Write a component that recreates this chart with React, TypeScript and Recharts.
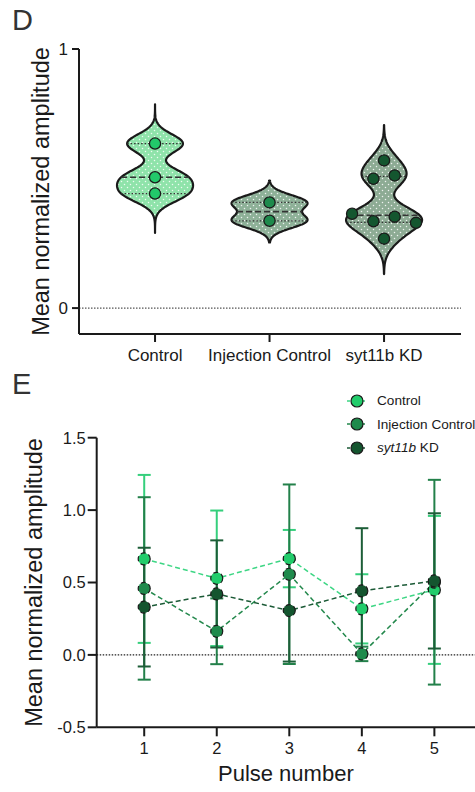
import React from "react";
import {
  ScatterChart,
  Scatter,
  ComposedChart,
  Line,
  ErrorBar,
  XAxis,
  YAxis,
  ReferenceLine,
  Legend,
} from "recharts";

const FONT = '"Liberation Sans", Arial, Helvetica, sans-serif';
const INK = "#1a1a1a";

// ---- panel D: per-fish mean amplitudes ----
const GROUPS = ["Control", "Injection Control", "syt11b KD"];
const CONTROL_AMP = [0.635, 0.505, 0.442];
const INJECTION_AMP = [0.408, 0.337];
const KD_AMP = [0.57, 0.499, 0.512, 0.364, 0.335, 0.353, 0.329, 0.268];
const KDE_BANDWIDTH = [0.036, 0.028, 0.043];

const VIOLIN_FILL = ["#8fe3aa", "#8eb198", "#8dab94"];
const POINT_FILL = ["#22c96a", "#1e8a4c", "#14562f"];

// ---- panel E: amplitude per pulse (mean ± SD) ----
const PULSES = [1, 2, 3, 4, 5];
const CONTROL_MEAN = [0.663, 0.529, 0.665, 0.318, 0.449];
const CONTROL_SD = [0.58, 0.468, 0.198, 0.239, 0.511];
const INJECTION_MEAN = [0.459, 0.163, 0.557, 0.007, 0.502];
const INJECTION_SD = [0.63, 0.227, 0.62, 0.05, 0.707];
const KD_MEAN = [0.33, 0.421, 0.306, 0.442, 0.511];
const KD_SD = [0.41, 0.37, 0.352, 0.433, 0.467];

const SERIES = [
  { key: "control", name: "Control", line: "#3dd684", dot: "#22cc6b", bar: "#35cf7c" },
  { key: "injection", name: "Injection Control", line: "#23884c", dot: "#1f8a4c", bar: "#23804a" },
  { key: "kd", name: "syt11b KD", line: "#1b5a36", dot: "#14552f", bar: "#1d5e38" },
];

const HALF_WIDTH = 0.332; // widest point of each violin, in category units
const DODGE_STEP = 0.186;

function sampleSd(vals: number[]) {
  const m = vals.reduce((a, b) => a + b, 0) / vals.length;
  return Math.sqrt(vals.reduce((a, v) => a + (v - m) ** 2, 0) / (vals.length - 1));
}

function quantile(vals: number[], p: number) {
  const s = [...vals].sort((a, b) => a - b);
  const n = s.length;
  let pos = (n + 1) * p;
  if (pos < 1) pos = 1;
  if (pos > n) pos = n;
  const lo = Math.floor(pos);
  if (lo >= n) return s[n - 1];
  return s[lo - 1] + (pos - lo) * (s[lo] - s[lo - 1]);
}

// spread points that sit at almost the same height side by side
function dodge(vals: number[], gap = 0.045) {
  const order = vals.map((_, i) => i).sort((a, b) => vals[a] - vals[b]);
  const rows: number[][] = [];
  for (const i of order) {
    const row = rows[rows.length - 1];
    if (row && vals[i] - vals[row[row.length - 1]] < gap) row.push(i);
    else rows.push([i]);
  }
  const off = new Array(vals.length).fill(0);
  rows.forEach((row) => {
    row.sort((a, b) => a - b);
    row.forEach((i, k) => (off[i] = (k - (row.length - 1) / 2) * DODGE_STEP));
  });
  return off;
}

function buildViolin(vals: number[], h: number, center: number) {
  const n = vals.length;
  const reach = 1.92 * sampleSd(vals) * Math.pow(n, -0.2);
  const lo = Math.min(...vals) - reach;
  const hi = Math.max(...vals) + reach;
  const dens = (y: number) =>
    vals.reduce((s, v) => s + Math.exp(-0.5 * ((y - v) / h) ** 2), 0);
  const steps = 140;
  const ys: number[] = [];
  for (let i = 0; i <= steps; i++) ys.push(lo + ((hi - lo) * i) / steps);
  const peak = Math.max(...ys.map(dens));
  const half = (y: number) => (HALF_WIDTH * dens(y)) / peak;

  const outline = [
    ...ys.map((y) => ({ x: center + half(y), y })),
    ...[...ys].reverse().map((y) => ({ x: center - half(y), y })),
  ];
  const seg = (q: number) => [
    { x: center - half(q), y: q },
    { x: center + half(q), y: q },
  ];
  const offsets = dodge(vals);
  return {
    outline,
    median: seg(quantile(vals, 0.5)),
    quartiles: [seg(quantile(vals, 0.25)), seg(quantile(vals, 0.75))],
    points: vals.map((v, i) => ({ x: center + offsets[i], y: v })),
  };
}

const VIOLINS = [CONTROL_AMP, INJECTION_AMP, KD_AMP].map((vals, i) =>
  buildViolin(vals, KDE_BANDWIDTH[i], i)
);

const noShape = () => <g />;

const violinPath = (fill: string, id: string) => (p: any) => {
  const pts: { x: number; y: number }[] = p.points || [];
  const d = pts.map((pt, i) => `${i ? "L" : "M"}${pt.x},${pt.y}`).join("") + "Z";
  return (
    <g>
      <defs>
        <pattern id={id} width="6" height="6" patternUnits="userSpaceOnUse">
          <circle cx="1.5" cy="1.5" r="0.75" fill="#ffffff" opacity="0.85" />
          <circle cx="4.5" cy="4.5" r="0.75" fill="#ffffff" opacity="0.85" />
        </pattern>
      </defs>
      <path d={d} fill={fill} />
      <path d={d} fill={`url(#${id})`} />
      <path d={d} fill="none" stroke={INK} strokeWidth={2.2} strokeLinejoin="round" />
    </g>
  );
};

const axisStroke = { stroke: INK, strokeWidth: 2 };

function YTitle(props: any) {
  const vb = props.viewBox || { x: 0, y: 0, width: 0, height: 0 };
  const cx = vb.x + vb.width / 2 + (props.shift || 0);
  const cy = vb.y + vb.height / 2;
  return (
    <text
      x={cx}
      y={cy}
      transform={`rotate(-90, ${cx}, ${cy})`}
      textAnchor="middle"
      dominantBaseline="central"
      fontSize={23.5}
      fontFamily={FONT}
      fill={INK}
    >
      Mean normalized amplitude
    </text>
  );
}

function ViolinPanel() {
  return (
    <ScatterChart width={475} height={380} margin={{ top: 49, right: 14, bottom: 16, left: 0 }}>
      <XAxis
        type="number"
        dataKey="x"
        domain={[-0.664, 2.672]}
        ticks={[0, 1, 2]}
        interval={0}
        tickFormatter={(v: number) => GROUPS[v] ?? ""}
        height={30}
        tickSize={8}
        tickMargin={7}
        axisLine={axisStroke}
        tickLine={axisStroke}
        tick={{ fontSize: 17, fill: INK, fontFamily: FONT }}
        allowDataOverflow
      />
      <YAxis
        type="number"
        dataKey="y"
        domain={[-0.1, 1]}
        ticks={[0, 1]}
        width={79}
        tickSize={7}
        tickMargin={4}
        axisLine={axisStroke}
        tickLine={axisStroke}
        tick={{ fontSize: 17, fill: INK, fontFamily: FONT }}
        allowDataOverflow
        label={(p: any) => <YTitle {...p} shift={1} />}
      />
      <ReferenceLine y={0} stroke="#555" strokeWidth={1.2} strokeDasharray="1.5 1.5" />
      {VIOLINS.map((v, i) => (
        <Scatter
          key={`violin-${i}`}
          data={v.outline}
          shape={noShape}
          line={violinPath(VIOLIN_FILL[i], `dots-${i}`)}
          isAnimationActive={false}
        />
      ))}
      {VIOLINS.map((v, i) => (
        <Scatter
          key={`median-${i}`}
          data={v.median}
          shape={noShape}
          line={{ stroke: "#333", strokeWidth: 1.6, strokeDasharray: "6 3" }}
          isAnimationActive={false}
        />
      ))}
      {VIOLINS.flatMap((v, i) =>
        v.quartiles.map((q, j) => (
          <Scatter
            key={`q-${i}-${j}`}
            data={q}
            shape={noShape}
            line={{ stroke: "#333", strokeWidth: 1.2, strokeDasharray: "1.5 2" }}
            isAnimationActive={false}
          />
        ))
      )}
      {VIOLINS.map((v, i) => (
        <Scatter
          key={`pts-${i}`}
          data={v.points}
          isAnimationActive={false}
          shape={(p: any) => (
            <circle cx={p.cx} cy={p.cy} r={5.6} fill={POINT_FILL[i]} stroke={INK} strokeWidth={1.3} />
          )}
        />
      ))}
    </ScatterChart>
  );
}

const pulseData = PULSES.map((p, i) => ({
  pulse: p,
  control: CONTROL_MEAN[i],
  controlErr: CONTROL_SD[i],
  injection: INJECTION_MEAN[i],
  injectionErr: INJECTION_SD[i],
  kd: KD_MEAN[i],
  kdErr: KD_SD[i],
}));

function PulseLegend() {
  return (
    <div style={{ fontFamily: FONT, fontSize: 13.6, color: INK, whiteSpace: "nowrap" }}>
      {SERIES.map((s) => (
        <div key={s.key} style={{ display: "flex", alignItems: "center", height: 23.5 }}>
          <svg width={20} height={14} style={{ display: "block", flexShrink: 0 }}>
            <line x1={0} x2={20} y1={7} y2={7} stroke={s.line} strokeWidth={1.5} strokeDasharray="3 2" />
            <circle cx={10} cy={7} r={6} fill={s.dot} stroke={INK} strokeWidth={1.2} />
          </svg>
          <span style={{ marginLeft: 10, flexShrink: 0 }}>
            {s.key === "kd" ? (
              <>
                <i>syt11b</i> KD
              </>
            ) : (
              s.name
            )}
          </span>
        </div>
      ))}
    </div>
  );
}

function PulsePanel() {
  return (
    <ComposedChart
      width={475}
      height={412}
      data={pulseData}
      margin={{ top: 57.7, right: 0, bottom: 0, left: 0 }}
    >
      <XAxis
        type="number"
        dataKey="pulse"
        domain={[0.345, 5.56]}
        ticks={PULSES}
        interval={0}
        height={64.7}
        tickSize={9}
        tickMargin={6}
        axisLine={axisStroke}
        tickLine={axisStroke}
        tick={{ fontSize: 16.5, fill: INK, fontFamily: FONT }}
        allowDataOverflow
        label={{
          value: "Pulse number",
          position: "bottom",
          offset: -27,
          style: { fontSize: 22, fill: INK, fontFamily: FONT },
        }}
      />
      <YAxis
        type="number"
        domain={[-0.5, 1.5]}
        ticks={[-0.5, 0, 0.5, 1, 1.5]}
        tickFormatter={(v: number) => v.toFixed(1)}
        width={96.7}
        tickSize={9}
        tickMargin={2}
        axisLine={axisStroke}
        tickLine={axisStroke}
        tick={{ fontSize: 16.5, fill: INK, fontFamily: FONT }}
        allowDataOverflow
        label={(p: any) => <YTitle {...p} shift={-14} />}
      />
      <ReferenceLine y={0} stroke="#222" strokeWidth={1.2} strokeDasharray="1.5 1.5" />
      <Legend
        layout="vertical"
        align="center"
        verticalAlign="middle"
        wrapperStyle={{ top: 9, left: 347, width: 128 }}
        content={() => <PulseLegend />}
      />
      {SERIES.map((s) => (
        <Line
          key={s.key}
          type="linear"
          dataKey={s.key}
          name={s.name}
          stroke={s.line}
          strokeWidth={1.5}
          strokeDasharray="5 3"
          dot={{ r: 6, fill: s.dot, stroke: INK, strokeWidth: 1.2 }}
          activeDot={false}
          isAnimationActive={false}
        >
          <ErrorBar dataKey={`${s.key}Err`} direction="y" width={6.5} stroke={s.bar} strokeWidth={2} />
        </Line>
      ))}
    </ComposedChart>
  );
}

export default function App() {
  return (
    <div
      style={{
        position: "absolute",
        left: 0,
        top: 0,
        width: 475,
        height: 792,
        overflow: "hidden",
        background: "#fff",
        fontFamily: FONT,
      }}
    >
      <div style={{ position: "absolute", left: 0, top: 0 }}>
        <ViolinPanel />
      </div>
      <div style={{ position: "absolute", left: 0, top: 380 }}>
        <PulsePanel />
      </div>
      <div style={{ position: "absolute", left: 12, top: 5.5, fontSize: 29, lineHeight: 1, color: "#333" }}>D</div>
      <div style={{ position: "absolute", left: 12, top: 369.5, fontSize: 29, lineHeight: 1, color: "#333" }}>E</div>
    </div>
  );
}
